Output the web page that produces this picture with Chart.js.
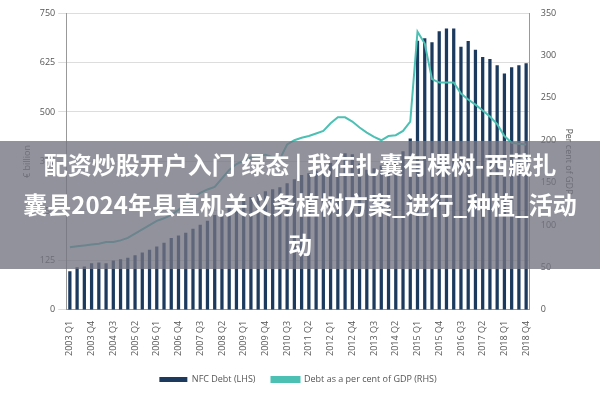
<!DOCTYPE html>
<html><head><meta charset="utf-8">
<script src="https://cdn.jsdelivr.net/npm/chart.js@4/dist/chart.umd.min.js"></script>
<style>
body{margin:0;background:#fff;width:600px;height:400px;overflow:hidden;position:relative;font-family:"Noto Sans CJK SC",sans-serif}
#wrap{position:absolute;left:0;top:0;width:600px;height:400px}
#banner{position:absolute;left:0;top:141px;width:600px;height:128px;background:rgba(115,115,130,0.78);color:#fff;font-weight:bold;font-size:24px;line-height:40px;text-align:center;padding-top:3px;box-sizing:border-box;white-space:nowrap}
</style></head><body>
<div id="wrap"><canvas id="c" width="600" height="400"></canvas></div>
<div id="banner">配资炒股开户入门 绿态 | 我在扎囊有棵树-西藏扎<br>囊县2024年县直机关义务植树方案_进行_种植_活动<br>动</div>
<script>
const years=[2003,2004,2005,2006,2007,2008,2009,2010,2011,2012,2013,2014,2015,2016,2017,2018];
const quarters=["Q1","Q2","Q3","Q4"];
const categories=[];years.forEach(y=>quarters.forEach(q=>categories.push(y+" "+q)));
const nfcDebt=[98,108,110,118,120,118,125,128,132,138,145,152,160,170,182,188,195,205,215,225,240,250,262,269,278,285,292,300,305,310,320,330,341,345,352,360,372,385,396,393,370,354,358,365,375,393,401,433,680,686,676,704,711,711,665,679,657,639,634,618,597,613,618,623];
const debtPctGdp=[74,75,76,77,78,80,80,82,85,90,95,100,105,108,112,118,125,132,138,142,145,155,165,172,176,180,182,183,180,178,195,200,203,205,208,211,220,227,227,222,215,209,204,200,205,206,211,222,328,314,272,268,268,268,255,248,242,235,228,219,205,197,196,195];
const leftTicks=[0,125,250,375,500,625,750];
const rightTicks=[0,50,100,150,200,250,300,350];
const tickFont={family:"Open Sans",size:9};
new Chart(document.getElementById('c'),{
 data:{labels:categories,datasets:[
  {type:'line',label:'Debt as a per cent of GDP (RHS)',data:debtPctGdp,yAxisID:'y1',borderColor:'#4dc0b4',backgroundColor:'#4dc0b4',borderWidth:2,pointRadius:0,tension:0},
  {type:'bar',label:'NFC Debt (LHS)',data:nfcDebt,yAxisID:'y',backgroundColor:'#1b3a5e',barPercentage:0.45,categoryPercentage:1}
 ]},
 options:{responsive:false,animation:false,
  layout:{padding:{left:18,right:22,top:13,bottom:6}},
  plugins:{legend:{position:'bottom',reverse:true,labels:{font:{family:"Open Sans",size:9},color:'#555',boxWidth:28,boxHeight:5,padding:16}},tooltip:{enabled:false}},
  scales:{
   x:{grid:{display:false},border:{color:'#999'},ticks:{autoSkip:false,maxRotation:90,minRotation:90,font:tickFont,color:'#555',callback:(v,i)=>i%3===0?categories[i]:''}},
   y:{position:'left',min:0,max:750,afterBuildTicks:a=>{a.ticks=leftTicks.map(v=>({value:v}))},grid:{color:'#ddd'},border:{color:'#999'},ticks:{font:tickFont,color:'#555'},title:{display:true,text:'€ billion',font:{family:"Open Sans",size:9},color:'#555'}},
   y1:{position:'right',min:0,max:350,afterBuildTicks:a=>{a.ticks=rightTicks.map(v=>({value:v}))},grid:{display:false},border:{color:'#999'},ticks:{font:tickFont,color:'#555'},title:{display:true,text:'Per cent of GDP',font:{family:"Open Sans",size:9},color:'#555'}}
  }}
});
</script></body></html>
